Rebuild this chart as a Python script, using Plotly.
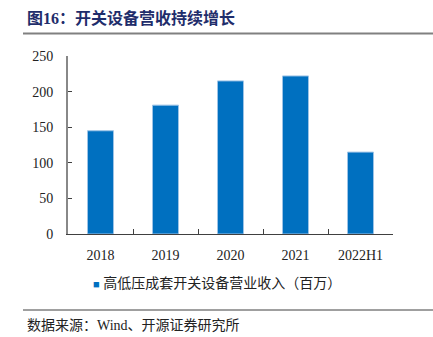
import plotly.graph_objects as go

categories = ["2018", "2019", "2020", "2021", "2022H1"]
revenue = [145, 181, 215, 222, 115]
y_ticks = [0, 50, 100, 150, 200, 250]
title_text = "图16：开关设备营收持续增长"
series_name = "高低压成套开关设备营业收入（百万）"
source_text = "数据来源：Wind、开源证券研究所"

SERIF = "Times New Roman, Liberation Serif, Noto Sans CJK SC, serif"
CJK = "Liberation Serif, Noto Sans CJK SC, sans-serif"

fig = go.Figure()
fig.add_trace(go.Bar(
    x=categories, y=revenue, name=series_name,
    marker=dict(color="#0070C0", line=dict(color="#9DC3E6", width=1)),
    showlegend=False,
))

L, R, T, B = 68, 40, 56, 103
W, H = 433, 337
pw, ph = W - L - R, H - T - B

def px(x):
    return (x - L) / pw

def py(y):
    return (H - B - y) / ph

fig.update_layout(
    width=W, height=H,
    margin=dict(l=L, r=R, t=T, b=B, pad=0),
    paper_bgcolor="white", plot_bgcolor="white",
    bargap=0.6,
    font=dict(family=SERIF, size=14, color="#222222"),
    xaxis=dict(
        showline=True, linecolor="#404040", linewidth=1,
        ticks="inside", tickson="boundaries", ticklen=5, tickcolor="#404040",
        showgrid=False, tickfont=dict(family=SERIF, size=14, color="#222222"),
        ticklabelstandoff=8,
    ),
    yaxis=dict(
        range=[0, 250], tickvals=y_ticks,
        showline=True, linecolor="#888888", linewidth=2,
        ticks="inside", ticklen=4, tickcolor="#404040",
        showgrid=False, zeroline=False,
        tickfont=dict(family=SERIF, size=14, color="#222222"),
        ticklabelstandoff=10,
    ),
    annotations=[
        dict(text=f"<b>{title_text}</b>", x=px(25), y=py(18), xref="paper", yref="paper",
             xanchor="left", yanchor="middle", showarrow=False,
             font=dict(family=CJK, size=16, color="#1F2D6B")),
        dict(text=f'<span style="color:#0070C0;font-size:11px">■</span> {series_name}',
             x=px(91), y=py(283), xref="paper", yref="paper",
             xanchor="left", yanchor="middle", showarrow=False,
             font=dict(family=CJK, size=14, color="#222222")),
        dict(text=source_text, x=px(25), y=py(325), xref="paper", yref="paper",
             xanchor="left", yanchor="middle", showarrow=False,
             font=dict(family=CJK, size=14, color="#222222")),
    ],
    shapes=[
        dict(type="line", xref="paper", yref="paper", x0=px(23), x1=px(433),
             y0=py(33.5), y1=py(33.5), line=dict(color="#808080", width=2)),
        dict(type="line", xref="paper", yref="paper", x0=px(23), x1=px(433),
             y0=py(310), y1=py(310), line=dict(color="#404040", width=1)),
    ],
)

fig.write_html("out.html")
